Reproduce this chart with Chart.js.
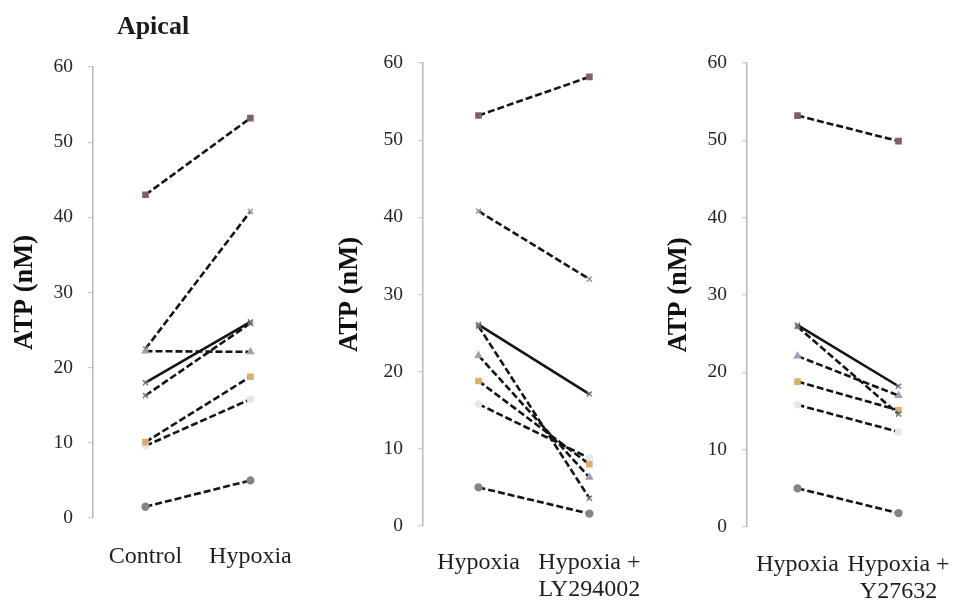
<!DOCTYPE html>
<html>
<head>
<meta charset="utf-8">
<script src="https://cdn.jsdelivr.net/npm/chart.js@4/dist/chart.umd.min.js"></script>
<style>
  html, body { margin: 0; padding: 0; background: #fff; overflow: hidden; width: 968px; height: 608px; position: relative; }
  canvas.panel { position: absolute; top: 0; }
</style>
</head>
<body>
<canvas id="apical1" class="panel" width="320" height="608" style="left:0px"></canvas>
<canvas id="apical2" class="panel" width="340" height="608" style="left:325px"></canvas>
<canvas id="apical3" class="panel" width="323" height="608" style="left:652px"></canvas>
<script>
// Apical ATP release (nM), one value per preparation (8 preparations)
const subjects = ['1', '2', '3', '4', '5', '6', '7', '8'];
const control   = [43.0, 22.5, 22.2, 18.0, 16.3, 10.1, 9.6, 1.5];
const hypoxia   = [53.2, 40.8, 22.1, 26.1, 25.9, 18.8, 15.8, 5.0];
const hypoxiaLY = [58.2, 32.0, 6.3, 17.1, 3.6, 8.0, 8.8, 1.6];
const hypoxiaY  = [49.9, null, 17.0, 18.2, 14.6, 15.1, 12.3, 1.8];

const categories1 = ['Control', 'Hypoxia'];
const categories2 = ['Hypoxia', ['Hypoxia +', 'LY294002']];
const categories3 = ['Hypoxia', ['Hypoxia +', 'Y27632']];
const yTicks = [0, 10, 20, 30, 40, 50, 60];

// marker look per preparation
const markerShapes = ['rect', 'crossRot', 'triangle', 'crossRot', 'crossRot', 'rect', 'circle', 'circle'];
const markerColors = ['#80606c', '#9a9a9a', '#a79cb8', '#7a7a7a', '#777777', '#dcae6a', '#dfeaf0', '#858585'];
const markerSizes  = [3.6, 3.6, 3.4, 3.6, 3.6, 3.6, 3, 3.4];
const solidSubject = 3;

const SERIF = '"Liberation Serif", "Times New Roman", serif';

const panelTitle = {
  id: 'panelTitle',
  afterDraw(chart, args, opts) {
    if (!opts || !opts.text) return;
    const ctx = chart.ctx;
    ctx.save();
    ctx.font = 'bold 26px ' + SERIF;
    ctx.fillStyle = '#1a1a1a';
    ctx.textAlign = 'center';
    ctx.textBaseline = 'middle';
    ctx.fillText(opts.text, opts.x, opts.y);
    ctx.restore();
  }
};

function buildDatasets(before, after) {
  const sets = [];
  subjects.forEach((s, i) => {
    if (before[i] == null || after[i] == null) return;
    sets.push({
      label: s,
      data: [before[i], after[i]],
      borderColor: '#141414',
      borderWidth: 2.6,
      borderDash: i === solidSubject ? [] : [7, 3],
      pointStyle: markerShapes[i],
      pointRadius: markerSizes[i],
      pointBorderWidth: 1.5,
      pointBackgroundColor: markerColors[i],
      pointBorderColor: markerColors[i],
      fill: false,
      tension: 0
    });
  });
  return sets;
}

function makePanel(id, labels, before, after, g) {
  return new Chart(document.getElementById(id), {
    type: 'line',
    data: { labels: labels, datasets: buildDatasets(before, after) },
    plugins: [panelTitle],
    options: {
      responsive: false,
      animation: false,
      layout: { padding: { top: g.top, right: g.right, bottom: 0, left: 0 } },
      plugins: {
        legend: { display: false },
        tooltip: { enabled: false },
        panelTitle: g.title || {}
      },
      scales: {
        x: {
          type: 'category',
          offset: true,
          grid: { display: false, drawTicks: false },
          border: { display: false },
          ticks: {
            color: '#1e1e1e',
            font: { family: SERIF, size: 24, lineHeight: 1.13 },
            padding: g.xPad,
            maxRotation: 0,
            autoSkip: false
          },
          afterFit(scale) { scale.height = g.xHeight; }
        },
        y: {
          min: 0,
          max: 60,
          afterBuildTicks(scale) { scale.ticks = yTicks.map(v => ({ value: v })); },
          grid: { drawOnChartArea: false, drawTicks: true, tickLength: 5, color: '#cccccc', lineWidth: 1.2 },
          border: { display: true, color: '#b8b8b8', width: 1.5 },
          ticks: {
            color: '#262626',
            font: { family: SERIF, size: 19.5 },
            padding: 15
          },
          title: {
            display: true,
            text: 'ATP (nM)',
            color: '#111',
            font: { family: SERIF, size: 26.5, weight: 'bold', lineHeight: 1.2 },
            padding: { top: g.yTitlePad, bottom: 0 }
          },
          afterFit(scale) { scale.width = g.yWidth; }
        }
      }
    }
  });
}

makePanel('apical1', categories1, control, hypoxia, {
  top: 67, right: 13, yWidth: 93, xHeight: 90, xPad: 25, yTitlePad: 9.5,
  title: { text: 'Apical', x: 153, y: 27 }
});
makePanel('apical2', categories2, hypoxia, hypoxiaLY, {
  top: 63, right: 6, yWidth: 98, xHeight: 82, xPad: 23, yTitlePad: 9
});
makePanel('apical3', categories3, hypoxia.map((v, i) => hypoxiaY[i] == null ? null : v), hypoxiaY, {
  top: 63, right: 4, yWidth: 95, xHeight: 81, xPad: 24, yTitlePad: 11
});
</script>
</body>
</html>
